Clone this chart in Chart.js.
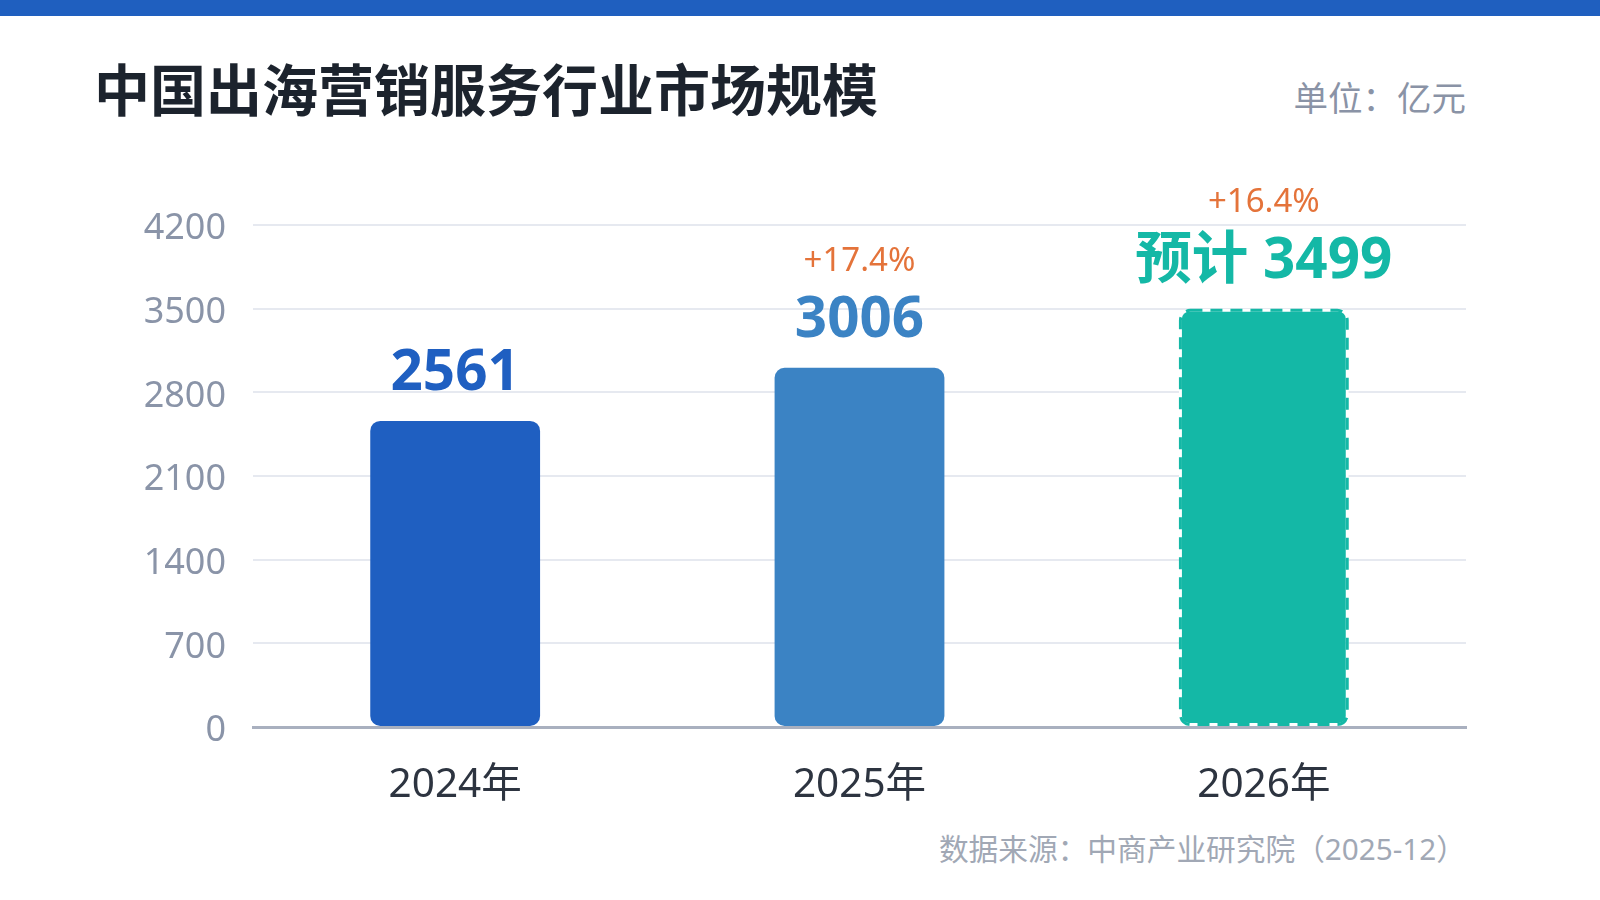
<!DOCTYPE html>
<html>
<head>
<meta charset="utf-8">
<script src="https://cdn.jsdelivr.net/npm/chart.js@4.4.1/dist/chart.umd.min.js"></script>
<style>
  html, body { margin: 0; padding: 0; background: #ffffff; }
  body { width: 1600px; height: 900px; position: relative; overflow: hidden;
         font-family: "Noto Sans", "Noto Sans CJK SC", sans-serif; }
  #band { position: absolute; left: 0; top: 0; width: 1600px; height: 16px; background: #1f5fbf; }
  #title { position: absolute; left: 94px; top: 59px; font-size: 56px; font-weight: 700;
           font-family: "Noto Sans CJK SC", sans-serif;
           color: #1c232d; line-height: 1; white-space: nowrap; }
  #unit { position: absolute; right: 134px; top: 79px; font-size: 34.5px; color: #8a93a6;
          font-family: "Noto Sans CJK SC", sans-serif;
          line-height: 1; white-space: nowrap; }
  #source { position: absolute; right: 134px; top: 834px; font-size: 29.7px; color: #a1a8b5;
            line-height: 1; white-space: nowrap; }
  #wrap { position: absolute; left: 0; top: 0; width: 1600px; height: 900px; }
</style>
</head>
<body>
<div id="band"></div>
<div id="title">中国出海营销服务行业市场规模</div>
<div id="unit">单位：亿元</div>
<div id="source">数据来源：中商产业研究院（2025-12）</div>
<div id="wrap"><canvas id="c" width="1600" height="900"></canvas></div>
<script>
const categories = ["2024年", "2025年", "2026年"];
const values = [2561, 3006, 3499];
const valueLabels = ["2561", "3006", "预计 3499"];
const growthLabels = ["", "+17.4%", "+16.4%"];
const yTicks = [0, 700, 1400, 2100, 2800, 3500, 4200];

const barColors = ["#1f5fc1", "#3b83c4", "#14b8a6"];
const labelColors = ["#1f5fc1", "#3b83c4", "#14b8a6"];
const FONT = '"Noto Sans", "Noto Sans CJK SC", sans-serif';

const labelPlugin = {
  id: 'labels',
  afterDatasetsDraw(chart) {
    const ctx = chart.ctx;
    const meta = chart.getDatasetMeta(0);
    meta.data.forEach((bar, i) => {
      const p = bar.getProps(['x', 'y', 'base', 'width'], true);
      if (i === 2) {
        // dashed outline for forecast bar, drawn inside the bar bounds
        const lw = 3;
        const left = p.x - p.width / 2 + lw / 2, w = p.width - lw;
        const top = p.y + lw / 2, bottom = p.base - lw / 2;
        ctx.save();
        ctx.strokeStyle = barColors[2];
        ctx.lineWidth = lw;
        ctx.setLineDash([12, 8]);
        ctx.beginPath();
        ctx.roundRect(left, top, w, bottom - top, 10);
        ctx.stroke();
        ctx.restore();
      }
      ctx.save();
      ctx.textAlign = 'center';
      ctx.textBaseline = 'alphabetic';
      ctx.fillStyle = labelColors[i];
      ctx.font = '700 56.5px ' + FONT;
      const vy = p.y - 31;
      ctx.fillText(valueLabels[i], p.x, vy);
      if (growthLabels[i]) {
        ctx.fillStyle = '#e4733a';
        ctx.font = '400 33px ' + FONT;
        ctx.fillText(growthLabels[i], p.x, vy - 66);
      }
      ctx.restore();
    });
  }
};

new Chart(document.getElementById('c'), {
  type: 'bar',
  data: {
    labels: categories,
    datasets: [{
      data: values,
      backgroundColor: barColors,
      borderColor: ['rgba(0,0,0,0)', 'rgba(0,0,0,0)', '#ffffff'],
      borderWidth: [0, 0, 3],
      borderRadius: 10,
      borderSkipped: false,
      barPercentage: 0.42,
      categoryPercentage: 1.0
    }]
  },
  options: {
    responsive: false,
    animation: false,
    devicePixelRatio: 1,
    layout: { padding: { left: 0, right: 134, top: 225, bottom: 0 } },
    plugins: { legend: { display: false }, tooltip: { enabled: false } },
    scales: {
      x: {
        grid: { display: false, drawTicks: false },
        border: { display: true, color: '#a9b0bf', width: 3 },
        ticks: { color: '#2d3440', padding: 34, font: { family: FONT, size: 40.5 } },
        afterFit(scale) { scale.height = 173; }
      },
      y: {
        min: 0, max: 4200,
        afterBuildTicks(scale) { scale.ticks = yTicks.map(v => ({ value: v })); },
        grid: { color: '#e6e9f0', lineWidth: 2, drawTicks: false },
        border: { display: false },
        ticks: { color: '#8a94a8', padding: 27, labelOffset: 4, font: { family: FONT, size: 36 },
                 callback: (v) => String(v) },
        afterFit(scale) { scale.width = 253; }
      }
    }
  },
  plugins: [labelPlugin]
});
</script>
</body>
</html>
